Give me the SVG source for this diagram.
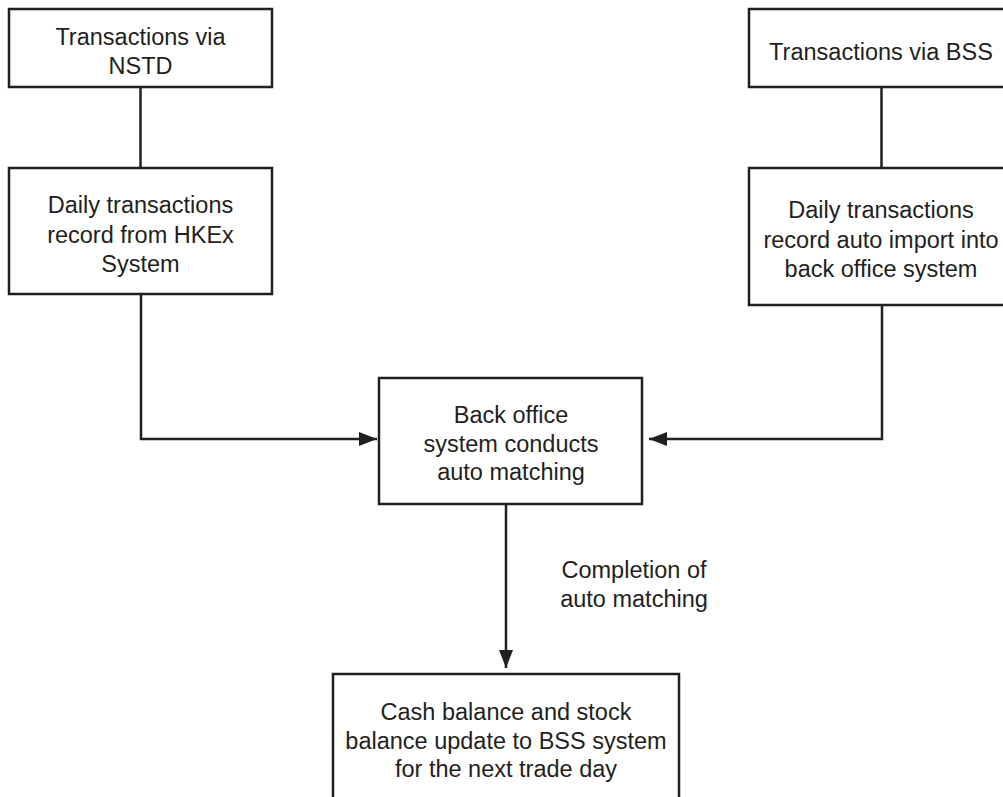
<svg xmlns="http://www.w3.org/2000/svg" width="1003" height="797" viewBox="0 0 1003 797">
<defs>
<style>
.box{fill:#fff;stroke:#231f20;stroke-width:2.5}
.ln{fill:none;stroke:#231f20;stroke-width:2.5}
text{font-family:"Liberation Sans",Arial,sans-serif;font-size:23.5px;fill:#231f20;text-anchor:middle}
</style>
<marker id="ah" viewBox="0 0 18 14" refX="18" refY="7" markerWidth="18" markerHeight="14" markerUnits="userSpaceOnUse" orient="auto">
<path d="M0,0 L18,7 L0,14 Z" fill="#231f20"/>
</marker>
</defs>
<rect width="1003" height="797" fill="#fff"/>
<g id="connectors">
<line class="ln" x1="140.5" y1="87" x2="140.5" y2="168"/>
<line class="ln" x1="881.5" y1="87" x2="881.5" y2="168"/>
<polyline class="ln" points="141,294 141,439 377,439" marker-end="url(#ah)"/>
<polyline class="ln" points="882,305 882,439 649,439" marker-end="url(#ah)"/>
<line class="ln" x1="506" y1="504" x2="506" y2="668" marker-end="url(#ah)"/>
<text x="634" y="578">Completion of</text>
<text x="634" y="607">auto matching</text>
</g>
<g id="nstd">
<rect class="box" x="9" y="9" width="263" height="78"/>
<text x="140.5" y="45">Transactions via</text>
<text x="140.5" y="74">NSTD</text>
</g>
<g id="hkex">
<rect class="box" x="9" y="168" width="263" height="126"/>
<text x="140.5" y="213">Daily transactions</text>
<text x="140.5" y="243">record from HKEx</text>
<text x="140.5" y="272">System</text>
</g>
<g id="bss">
<rect class="box" x="749" y="9" width="270" height="78"/>
<text x="881" y="60">Transactions via BSS</text>
</g>
<g id="import">
<rect class="box" x="749" y="168" width="270" height="137"/>
<text x="881" y="218">Daily transactions</text>
<text x="881" y="248">record auto import into</text>
<text x="881" y="277">back office system</text>
</g>
<g id="matching">
<rect class="box" x="379" y="378" width="263" height="126"/>
<text x="511" y="423">Back office</text>
<text x="511" y="452">system conducts</text>
<text x="511" y="480">auto matching</text>
</g>
<g id="update">
<rect class="box" x="333" y="674" width="346" height="140"/>
<text x="506" y="720">Cash balance and stock</text>
<text x="506" y="749">balance update to BSS system</text>
<text x="506" y="777">for the next trade day</text>
</g>
</svg>
